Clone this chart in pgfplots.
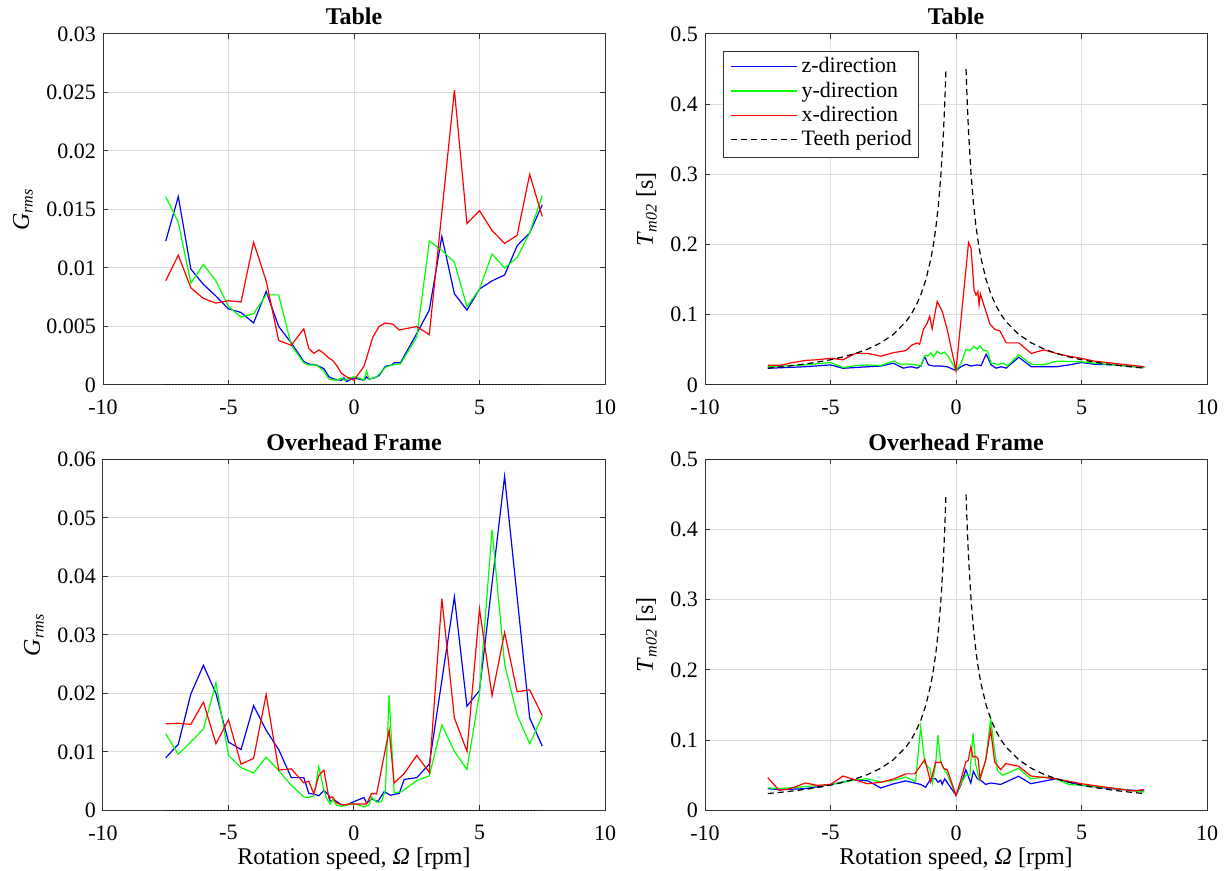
\documentclass[border=0pt]{standalone}
\usepackage{fontspec}
\setmainfont{Liberation Serif}
\usepackage{pgfplots}
\pgfplotsset{compat=1.18}
\newcommand{\lgdline}[1]{\textcolor{#1}{\rule[0.55ex]{33pt}{0.6pt}}}
\newcommand{\lgddash}{\rule[0.55ex]{3pt}{0.6pt}\hspace{2pt}\rule[0.55ex]{3pt}{0.6pt}\hspace{2pt}\rule[0.55ex]{3pt}{0.6pt}\hspace{2pt}\rule[0.55ex]{3pt}{0.6pt}\hspace{2pt}\rule[0.55ex]{3pt}{0.6pt}\hspace{2pt}\rule[0.55ex]{3pt}{0.6pt}\hspace{2pt}\rule[0.55ex]{3pt}{0.6pt}}
\pgfplotsset{
 mystyle/.style={
  scale only axis, width=251pt, height=175.5pt,
  xmin=-10, xmax=10, xtick={-10,-5,0,5,10},
  axis line style={black!80, line width=0.5pt},
  tick style={black!80, line width=0.5pt},
  tick align=inside, major tick length=2.5pt,
  grid=major, major grid style={black!13, line width=0.5pt},
  tick label style={font=\fontsize{11}{13}\selectfont},
  xticklabel style={yshift=-4pt},
  label style={font=\fontsize{12}{14}\selectfont},
  xlabel style={yshift=3pt},
  title style={font=\bfseries\fontsize{12}{14}\selectfont, yshift=-5pt},
  /pgf/number format/assume math mode=true,
  yticklabel style={/pgf/number format/fixed, /pgf/number format/precision=3},
  scaled y ticks=false,
  every axis plot/.append style={line width=0.6pt},
 }
}
\begin{document}
\begin{tikzpicture}[x=1pt,y=1pt]
\useasboundingbox (0,0) rectangle (613,435.5);
% ---------------- top left
\begin{axis}[mystyle, at={(51.5pt,243pt)}, anchor=south west,
  ymin=0, ymax=0.03, ytick={0,0.005,...,0.03},
  title={Table}, ylabel={\textit{G}\textsubscript{\textit{rms}}}]
\addplot[color=blue] coordinates {(-7.5,0.0123) (-7,0.0161) (-6.5,0.0099) (-6,0.0086) (-5.5,0.0076) (-5,0.0065) (-4.5,0.0062) (-4,0.0053) (-3.5,0.0080) (-3,0.0050) (-2.5,0.0036) (-2,0.0020) (-1.8,0.0018) (-1.5,0.0017) (-1.2,0.0014) (-1,0.0007) (-0.8,0.0005) (-0.5,0.0004) (-0.4,0.0006) (-0.3,0.0003) (-0.1,0.0005) (0,0.0006) (0.2,0.0005) (0.4,0.0004) (0.5,0.0007) (0.6,0.0005) (0.8,0.0006) (1,0.0008) (1.25,0.0016) (1.5,0.0017) (1.6,0.0019) (1.85,0.0019) (2.5,0.0044) (3,0.0064) (3.5,0.0127) (4,0.0078) (4.5,0.0064) (5,0.0082) (5.5,0.0089) (6,0.0094) (6.5,0.0119) (7,0.0130) (7.5,0.0154)};
\addplot[color=green] coordinates {(-7.5,0.0161) (-7,0.0139) (-6.5,0.0087) (-6,0.0103) (-5.5,0.0089) (-5,0.0067) (-4.5,0.0058) (-4,0.0061) (-3.5,0.0077) (-3,0.0077) (-2.5,0.0034) (-2,0.0019) (-1.8,0.0017) (-1.5,0.0017) (-1.2,0.0012) (-1,0.0005) (-0.7,0.0004) (-0.5,0.0006) (-0.35,0.0004) (-0.2,0.0006) (0,0.0007) (0.2,0.0006) (0.4,0.0004) (0.5,0.0012) (0.6,0.0005) (0.9,0.0007) (1.25,0.0015) (1.5,0.0017) (1.85,0.0018) (2.5,0.0041) (3,0.0123) (3.5,0.0115) (4,0.0105) (4.5,0.0067) (5,0.0082) (5.5,0.0112) (6,0.0100) (6.5,0.0109) (7,0.0130) (7.5,0.0162)};
\addplot[color=red] coordinates {(-7.5,0.0089) (-7,0.0111) (-6.5,0.0083) (-6,0.0074) (-5.5,0.0070) (-5,0.0072) (-4.5,0.0071) (-4,0.0122) (-3.5,0.0089) (-3,0.0038) (-2.5,0.0034) (-2,0.0048) (-1.8,0.0031) (-1.6,0.0027) (-1.4,0.0030) (-1.2,0.0027) (-1,0.0023) (-0.85,0.0021) (-0.7,0.0017) (-0.5,0.0010) (-0.3,0.0007) (0,0.0004) (0.4,0.0016) (0.75,0.0041) (1,0.0050) (1.25,0.0053) (1.55,0.0052) (1.8,0.0047) (2.5,0.0050) (3,0.0043) (4,0.0252) (4.5,0.0138) (5,0.0149) (5.5,0.0132) (6,0.0121) (6.5,0.0128) (7,0.0180) (7.5,0.0144)};
\addplot[black, densely dotted] coordinates {(-7.5,0) (7.5,0)};
\end{axis}
% ---------------- top right
\begin{axis}[mystyle, at={(352.5pt,243pt)}, anchor=south west,
  ymin=0, ymax=0.5, ytick={0,0.1,...,0.5},
  title={Table}, ylabel={\textit{T}\textsubscript{\textit{m02}} [s]}]
\addplot[color=blue] coordinates {(-7.5,0.0238) (-6,0.026) (-5,0.0286) (-4.5,0.0238) (-3.5,0.026) (-3,0.027) (-2.5,0.031) (-2.1,0.024) (-1.8,0.026) (-1.55,0.024) (-1.4,0.027) (-1.25,0.0405) (-1.1,0.0286) (-0.9,0.027) (-0.6,0.027) (-0.35,0.026) (0,0.0205) (0.2,0.026) (0.4,0.0295) (0.6,0.027) (0.85,0.0286) (1,0.0276) (1.2,0.044) (1.4,0.0286) (1.6,0.024) (1.8,0.026) (2,0.024) (2.5,0.0395) (3,0.026) (4,0.026) (4.5,0.0286) (5,0.032) (5.5,0.0295) (6.3,0.0286) (7.5,0.0248)};
\addplot[color=green] coordinates {(-7.5,0.026) (-6,0.0286) (-5,0.032) (-4.5,0.025) (-4,0.0276) (-3.5,0.0286) (-3,0.0276) (-2.5,0.034) (-2.2,0.0295) (-1.9,0.03) (-1.6,0.0286) (-1.4,0.027) (-1.25,0.042) (-1.1,0.0415) (-1,0.046) (-0.9,0.04) (-0.75,0.048) (-0.6,0.0443) (-0.45,0.047) (-0.3,0.04) (-0.15,0.031) (0,0.0205) (0.2,0.031) (0.4,0.051) (0.55,0.0486) (0.7,0.055) (0.85,0.051) (0.95,0.056) (1.1,0.049) (1.25,0.0486) (1.4,0.031) (1.7,0.0295) (1.9,0.031) (2.05,0.027) (2.5,0.043) (3,0.0295) (3.5,0.0286) (4,0.034) (5,0.033) (6,0.0295) (7.5,0.0248)};
\addplot[color=red] coordinates {(-7.5,0.028) (-7,0.028) (-6.5,0.032) (-6,0.035) (-5.5,0.036) (-5,0.038) (-4.5,0.036) (-4,0.045) (-3.5,0.045) (-3,0.041) (-2.5,0.046) (-2,0.049) (-1.75,0.057) (-1.55,0.060) (-1.45,0.058) (-1.3,0.079) (-1.15,0.088) (-1.05,0.098) (-0.95,0.080) (-0.75,0.119) (-0.55,0.105) (-0.35,0.079) (0,0.0205) (0.5,0.203) (0.6,0.195) (0.65,0.17) (0.72,0.135) (0.8,0.128) (0.87,0.133) (0.92,0.114) (0.97,0.13) (1.1,0.115) (1.35,0.087) (1.55,0.079) (1.75,0.077) (2,0.06) (2.5,0.06) (3,0.045) (3.5,0.05) (4,0.045) (4.5,0.041) (5,0.038) (5.5,0.034) (6,0.032) (6.5,0.03) (7,0.028) (7.5,0.026)};
\addplot[black, densely dashed] coordinates {(-7.5,0.024) (-7,0.0257) (-6.5,0.0277) (-6,0.03) (-5.5,0.0327) (-5,0.036) (-4.5,0.04) (-4,0.045) (-3.5,0.0514) (-3,0.06) (-2.5,0.072) (-2,0.09) (-1.8,0.1) (-1.6,0.1125) (-1.4,0.1286) (-1.2,0.15) (-1,0.18) (-0.9,0.2) (-0.8,0.225) (-0.7,0.2571) (-0.6,0.3) (-0.5,0.36) (-0.45,0.4) (-0.4,0.45)};
\addplot[black, densely dashed] coordinates {(0.4,0.45) (0.45,0.4) (0.5,0.36) (0.6,0.3) (0.7,0.2571) (0.8,0.225) (0.9,0.2) (1,0.18) (1.2,0.15) (1.4,0.1286) (1.6,0.1125) (1.8,0.1) (2,0.09) (2.5,0.072) (3,0.06) (3.5,0.0514) (4,0.045) (4.5,0.04) (5,0.036) (5.5,0.0327) (6,0.03) (6.5,0.0277) (7,0.0257) (7.5,0.024)};
\node[anchor=north west, draw=black!80, line width=0.5pt, fill=white, inner xsep=3.5pt, inner ysep=2pt,
  font=\fontsize{11}{12.2}\selectfont] at (rel axis cs:0.036,0.951)
  {\begin{tabular}{@{}l@{\hspace{2.5pt}}l@{}}
   \lgdline{blue} & z-direction\\
   \lgdline{green} & y-direction\\
   \lgdline{red} & x-direction\\
   \lgddash & Teeth period
   \end{tabular}};
\end{axis}
% ---------------- bottom left
\begin{axis}[mystyle, at={(51.5pt,30.3pt)}, anchor=south west,
  ymin=0, ymax=0.06, ytick={0,0.01,...,0.06},
  title={Overhead Frame}, ylabel={\textit{G}\textsubscript{\textit{rms}}},
  xlabel={Rotation speed, \textit{Ω} [rpm]}]
\addplot[color=blue] coordinates {(-7.5,0.0090) (-7,0.0113) (-6.5,0.0199) (-6,0.0248) (-5.5,0.0200) (-5,0.0117) (-4.5,0.0104) (-4,0.0179) (-3.5,0.0137) (-3,0.0104) (-2.5,0.0056) (-2,0.0056) (-1.8,0.0029) (-1.6,0.0028) (-1.4,0.0025) (-1.2,0.0034) (-1,0.0026) (-0.95,0.0016) (-0.75,0.0017) (-0.55,0.0011) (-0.35,0.0008) (0,0.0015) (0.4,0.0022) (0.5,0.0012) (0.7,0.0020) (0.95,0.0015) (1.2,0.0032) (1.45,0.0026) (1.8,0.0029) (2,0.0053) (2.5,0.0056) (3,0.0079) (4,0.0365) (4.5,0.0178) (5,0.0205) (6,0.0571) (7,0.0158) (7.5,0.0110)};
\addplot[color=green] coordinates {(-7.5,0.0131) (-7,0.0096) (-6.5,0.0117) (-6,0.0139) (-5.5,0.0218) (-5,0.0094) (-4.5,0.0073) (-4,0.0064) (-3.5,0.0091) (-3,0.0068) (-2.5,0.0043) (-2,0.0023) (-1.8,0.0022) (-1.6,0.0025) (-1.4,0.0075) (-1.2,0.0035) (-1.1,0.0021) (-0.95,0.0011) (-0.85,0.0019) (-0.7,0.0009) (-0.5,0.0007) (0,0.0012) (0.4,0.0006) (0.6,0.0009) (0.7,0.0023) (0.9,0.0014) (1.1,0.0015) (1.25,0.0035) (1.4,0.0197) (1.6,0.0030) (1.9,0.0032) (2.5,0.0051) (3,0.0059) (3.5,0.0146) (4,0.0101) (4.5,0.0070) (5,0.0200) (5.5,0.0480) (6,0.0250) (6.5,0.0163) (7,0.0114) (7.5,0.0161)};
\addplot[color=red] coordinates {(-7.5,0.0148) (-7,0.0149) (-6.5,0.0147) (-6,0.0185) (-5.5,0.0114) (-5,0.0155) (-4.5,0.0079) (-4,0.0089) (-3.5,0.0198) (-3,0.0069) (-2.5,0.0071) (-2,0.0047) (-1.8,0.0050) (-1.6,0.0028) (-1.4,0.0060) (-1.2,0.0069) (-1,0.0021) (-0.85,0.0023) (-0.7,0.0013) (-0.45,0.0009) (-0.2,0.0011) (0,0.0011) (0.5,0.0011) (0.7,0.0029) (0.9,0.0028) (1.4,0.0137) (1.6,0.0047) (1.85,0.0057) (2,0.0063) (2.5,0.0094) (3,0.0065) (3.5,0.0362) (4,0.0158) (4.5,0.0101) (5,0.0344) (5.5,0.0196) (6,0.0304) (6.5,0.0203) (7,0.0206) (7.5,0.0162)};
\addplot[black, densely dotted] coordinates {(-7.5,0) (7.5,0)};
\end{axis}
% ---------------- bottom right
\begin{axis}[mystyle, at={(352.5pt,30.3pt)}, anchor=south west,
  ymin=0, ymax=0.5, ytick={0,0.1,...,0.5},
  title={Overhead Frame}, ylabel={\textit{T}\textsubscript{\textit{m02}} [s]},
  xlabel={Rotation speed, \textit{Ω} [rpm]}]
\addplot[color=blue] coordinates {(-7.5,0.031) (-7,0.0295) (-6,0.031) (-5,0.0367) (-4.07,0.0438) (-3.5,0.042) (-3,0.032) (-2.47,0.038) (-2,0.042) (-1.41,0.037) (-1.21,0.033) (-1.01,0.045) (-0.81,0.045) (-0.72,0.040) (-0.61,0.043) (-0.55,0.037) (-0.45,0.045) (-0.28,0.036) (0,0.0214) (0.19,0.036) (0.39,0.058) (0.59,0.039) (0.69,0.0557) (0.85,0.045) (0.98,0.043) (1.18,0.037) (1.38,0.039) (1.78,0.037) (2.49,0.0486) (2.98,0.038) (3.98,0.045) (5,0.0357) (6.17,0.031) (7.5,0.0276)};
\addplot[color=green] coordinates {(-7.5,0.032) (-7,0.031) (-6,0.034) (-5,0.0367) (-4.07,0.043) (-3.54,0.045) (-3,0.0405) (-2.47,0.043) (-2,0.0476) (-1.61,0.041) (-1.41,0.119) (-1.24,0.0667) (-1.04,0.0595) (-0.94,0.039) (-0.81,0.0667) (-0.72,0.107) (-0.61,0.069) (-0.45,0.057) (-0.35,0.052) (0,0.0214) (0.19,0.038) (0.39,0.05) (0.55,0.05) (0.68,0.1095) (0.78,0.0667) (0.92,0.044) (1.18,0.071) (1.38,0.131) (1.52,0.09) (1.65,0.057) (1.85,0.05) (2.05,0.053) (2.49,0.06) (2.98,0.045) (3.51,0.0476) (3.98,0.045) (4.5,0.037) (5,0.0357) (6.17,0.032) (7.5,0.026)};
\addplot[color=red] coordinates {(-7.5,0.0467) (-7.05,0.0286) (-6.6,0.031) (-6,0.039) (-5.53,0.0357) (-5,0.037) (-4.5,0.049) (-4.07,0.044) (-3.54,0.038) (-3,0.040) (-2.47,0.045) (-2,0.052) (-1.64,0.052) (-1.41,0.064) (-1.24,0.0724) (-1.01,0.0405) (-0.81,0.069) (-0.72,0.068) (-0.61,0.069) (-0.48,0.0595) (-0.35,0.058) (0,0.0214) (0.19,0.043) (0.39,0.069) (0.49,0.0714) (0.59,0.0905) (0.68,0.076) (0.78,0.077) (0.88,0.074) (0.96,0.045) (1.18,0.071) (1.38,0.115) (1.54,0.069) (1.78,0.058) (1.98,0.0667) (2.49,0.063) (2.98,0.049) (3.98,0.045) (5,0.038) (6.17,0.032) (7.1,0.0276) (7.5,0.03)};
\addplot[black, densely dashed] coordinates {(-7.5,0.024) (-7,0.0257) (-6.5,0.0277) (-6,0.03) (-5.5,0.0327) (-5,0.036) (-4.5,0.04) (-4,0.045) (-3.5,0.0514) (-3,0.06) (-2.5,0.072) (-2,0.09) (-1.8,0.1) (-1.6,0.1125) (-1.4,0.1286) (-1.2,0.15) (-1,0.18) (-0.9,0.2) (-0.8,0.225) (-0.7,0.2571) (-0.6,0.3) (-0.5,0.36) (-0.45,0.4) (-0.4,0.45)};
\addplot[black, densely dashed] coordinates {(0.4,0.45) (0.45,0.4) (0.5,0.36) (0.6,0.3) (0.7,0.2571) (0.8,0.225) (0.9,0.2) (1,0.18) (1.2,0.15) (1.4,0.1286) (1.6,0.1125) (1.8,0.1) (2,0.09) (2.5,0.072) (3,0.06) (3.5,0.0514) (4,0.045) (4.5,0.04) (5,0.036) (5.5,0.0327) (6,0.03) (6.5,0.0277) (7,0.0257) (7.5,0.024)};
\end{axis}
\end{tikzpicture}
\end{document}
